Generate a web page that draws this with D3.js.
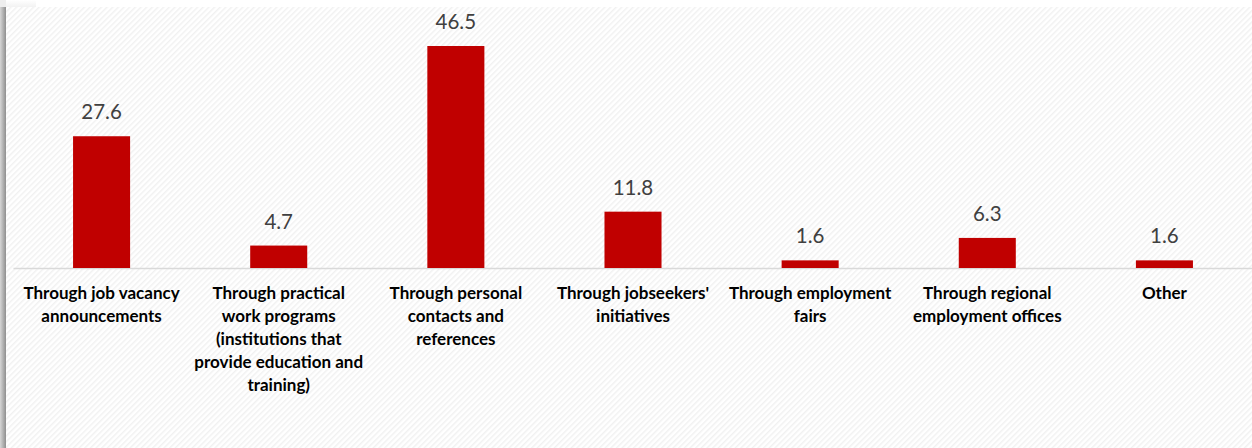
<!DOCTYPE html>
<html>
<head>
<meta charset="utf-8">
<script src="https://cdn.jsdelivr.net/npm/d3@7/dist/d3.min.js"></script>
<style>
  html, body { margin: 0; padding: 0; background: #ffffff; }
  svg { display: block; }
</style>
</head>
<body>
<svg id="chart" width="1252" height="448"></svg>
<script>
// Ways of finding a job, share of respondents (%)
const categories = [
  ["Through job vacancy", "announcements"],
  ["Through practical", "work programs", "(institutions that", "provide education and", "training)"],
  ["Through personal", "contacts and", "references"],
  ["Through jobseekers'", "initiatives"],
  ["Through employment", "fairs"],
  ["Through regional", "employment offices"],
  ["Other"]
];
const values = [27.6, 4.7, 46.5, 11.8, 1.6, 6.3, 1.6];
const valueLabels = ["27.6", "4.7", "46.5", "11.8", "1.6", "6.3", "1.6"];

const W = 1252, H = 448;
const svg = d3.select("#chart");
const defs = svg.append("defs");

// light diagonal hatch for the chart background
const pat = defs.append("pattern")
  .attr("id", "hatch")
  .attr("patternUnits", "userSpaceOnUse")
  .attr("width", 4).attr("height", 4)
  .attr("patternTransform", "rotate(45)");
pat.append("rect").attr("width", 4).attr("height", 4).attr("fill", "#ffffff");
pat.append("rect").attr("x", 0).attr("y", 0).attr("width", 1.5).attr("height", 4).attr("fill", "#f1f1f1");

// soft shadow along the left and top edges of the chart frame
const lg = defs.append("linearGradient").attr("id", "leftShade")
  .attr("x1", 0).attr("x2", 1).attr("y1", 0).attr("y2", 0);
lg.append("stop").attr("offset", "0%").attr("stop-color", "#d6d6d6");
lg.append("stop").attr("offset", "100%").attr("stop-color", "#8f8f8f");

const tg = defs.append("linearGradient").attr("id", "topShade")
  .attr("x1", 0).attr("x2", 0).attr("y1", 0).attr("y2", 1);
tg.append("stop").attr("offset", "0%").attr("stop-color", "#ffffff");
tg.append("stop").attr("offset", "100%").attr("stop-color", "#f2f2f2");

const frameX = 6, frameY = 7;
svg.append("rect").attr("x", 0).attr("y", 0).attr("width", W).attr("height", H).attr("fill", "#ffffff");
svg.append("rect").attr("x", frameX).attr("y", 0).attr("width", 30).attr("height", frameY).attr("fill", "url(#topShade)");
svg.append("rect").attr("x", 0).attr("y", frameY).attr("width", frameX).attr("height", H - frameY).attr("fill", "url(#leftShade)");
svg.append("rect").attr("x", 0).attr("y", 0).attr("width", frameX).attr("height", frameY).attr("fill", "#eeeeee");
svg.append("rect").attr("x", frameX).attr("y", frameY).attr("width", W - frameX).attr("height", H - frameY).attr("fill", "url(#hatch)");

// scales
const baseY = 268;
const x = d3.scaleBand().domain(d3.range(categories.length)).range([13, 1253]).padding(0);
const y = d3.scaleLinear().domain([0, 50]).range([baseY, baseY - 50 * 4.774]);
const barW = x.bandwidth() * 0.322;

// baseline (category axis)
const axis = d3.axisBottom(x).tickSize(0).tickFormat("");
const axG = svg.append("g").attr("transform", `translate(0,${baseY})`).call(axis);
axG.select(".domain").attr("stroke", "#d9d9d9").attr("stroke-width", 1.5);

// bars
svg.append("g").selectAll("rect")
  .data(values)
  .join("rect")
  .attr("x", (d, i) => x(i) + x.bandwidth() / 2 - barW / 2)
  .attr("y", d => y(d))
  .attr("width", barW)
  .attr("height", d => y(0) - y(d))
  .attr("fill", "#c00000");

// value labels
svg.append("g").selectAll("text")
  .data(values)
  .join("text")
  .attr("x", (d, i) => x(i) + x.bandwidth() / 2)
  .attr("y", d => y(d) - 17)
  .attr("text-anchor", "middle")
  .attr("font-family", "Lato, 'Open Sans', sans-serif")
  .attr("font-size", 20.5)
  .attr("fill", "#404040")
  .text((d, i) => valueLabels[i]);

// category labels
const catG = svg.append("g");
categories.forEach((lines, i) => {
  const t = catG.append("text")
    .attr("x", x(i) + x.bandwidth() / 2)
    .attr("y", 299)
    .attr("text-anchor", "middle")
    .attr("font-family", "Lato, 'Open Sans', sans-serif")
    .attr("font-weight", "bold")
    .attr("font-size", 17)
    .attr("fill", "#000000");
  lines.forEach((ln, k) => {
    t.append("tspan")
      .attr("x", x(i) + x.bandwidth() / 2)
      .attr("y", 299 + k * 23)
      .text(ln);
  });
});
</script>
</body>
</html>
